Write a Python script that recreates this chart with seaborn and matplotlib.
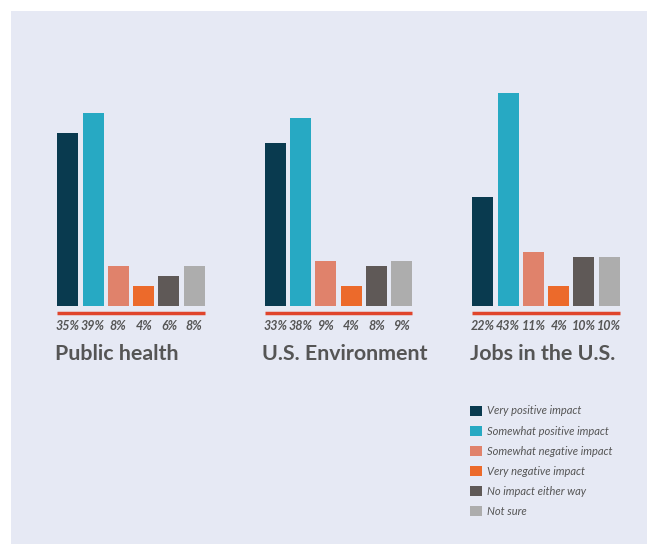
import matplotlib
matplotlib.use("Agg")
import matplotlib.pyplot as plt
from matplotlib.patches import Rectangle
import seaborn as sns
import pandas as pd

topics = ["Public health", "U.S. Environment", "Jobs in the U.S."]
responses = [
    "Very positive impact",
    "Somewhat positive impact",
    "Somewhat negative impact",
    "Very negative impact",
    "No impact either way",
    "Not sure",
]
public_health = [35, 39, 8, 4, 6, 8]
environment = [33, 38, 9, 4, 8, 9]
jobs = [22, 43, 11, 4, 10, 10]
colors = ["#093a4f", "#27a9c3", "#e0826b", "#ec6a2b", "#5f5957", "#adadad"]

rows = []
for topic, vals in zip(topics, [public_health, environment, jobs]):
    for resp, v in zip(responses, vals):
        rows.append({"topic": topic, "response": resp, "value": v})
df = pd.DataFrame(rows)

sns.set_theme(style="white")
plt.rcParams["font.family"] = ["Lato", "DejaVu Sans"]

W, H = 647, 544
fig = plt.figure(figsize=(W / 100, H / 100), dpi=100)
fig.patch.set_facecolor("white")
fig.patches.append(Rectangle((11 / W, 0), 1 - 11 / W, 1 - 11 / H,
                             transform=fig.transFigure, facecolor="#e6e9f4",
                             edgecolor="none", zorder=-10))

# axes geometry in pixels
base_px = 306
top_px = 60
left_px, right_px = 30, 640
px_per_unit = 4.95
group_pitch = 207.5
first_center = 131

ax = fig.add_axes([left_px / W, (H - base_px) / H,
                   (right_px - left_px) / W, (base_px - top_px) / H])
ax.set_facecolor("none")

sns.barplot(data=df, x="topic", y="value", hue="response", hue_order=responses,
            order=topics, palette=colors, width=0.732, gap=0.17, ax=ax,
            saturation=1, linewidth=0)

handles, labels = ax.get_legend_handles_labels()
ax.get_legend().remove()

ax.set_xlim(-(first_center - left_px) / group_pitch,
            2 + (right_px - (first_center + 2 * group_pitch)) / group_pitch)
ax.set_ylim(0, (base_px - top_px) / px_per_unit)
ax.axis("off")

def py(px):
    return (base_px - px) / px_per_unit

text_color = "#555555"
for ti, topic in enumerate(topics):
    bars = [c.patches[ti] for c in ax.containers]
    x0 = min(b.get_x() for b in bars)
    x1 = max(b.get_x() + b.get_width() for b in bars)
    ax.plot([x0, x1], [py(313), py(313)], color="#e0452c", lw=2.5,
            clip_on=False, solid_capstyle="butt")
    for b, hv in zip(bars, responses):
        v = df.loc[(df.topic == topic) & (df.response == hv), "value"].iloc[0]
        ax.text(b.get_x() + b.get_width() / 2, py(326), f"{v}%",
                ha="center", va="center", fontsize=9, style="italic",
                fontweight="bold", color=text_color, clip_on=False)
    ax.text(x0 - 2.5 / group_pitch, py(360), topic, ha="left", va="baseline",
            fontsize=15.4, fontweight="bold", color=text_color, clip_on=False)

leg = fig.legend(handles, labels, loc="upper left",
                 bbox_to_anchor=(466 / W, 1 - 401 / H), frameon=False,
                 fontsize=8, handlelength=1.0, handleheight=1.0,
                 handletextpad=0.5, labelspacing=0.82, borderaxespad=0)
for t in leg.get_texts():
    t.set_style("italic")
    t.set_color(text_color)

fig.savefig("out.png", dpi=100, facecolor=fig.get_facecolor())
